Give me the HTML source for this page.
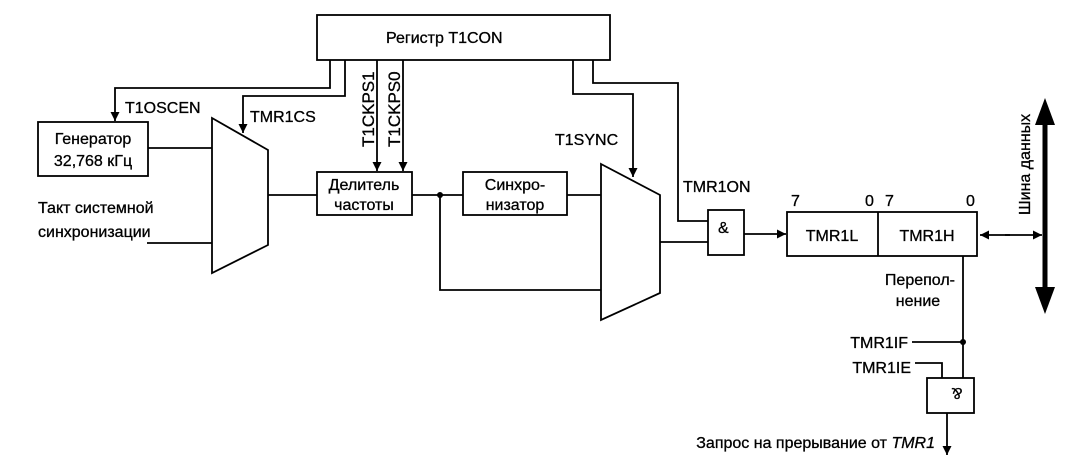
<!DOCTYPE html>
<html><head><meta charset="utf-8"><style>
html,body{margin:0;padding:0;background:#fff;}
svg{display:block;}
text{font-family:"Liberation Sans","DejaVu Sans",sans-serif;fill:#000;}
</style></head><body>
<svg width="1066" height="464" viewBox="0 0 1066 464" xmlns="http://www.w3.org/2000/svg">
<defs>
<marker id="a" viewBox="0 0 10 10" refX="10" refY="5" markerWidth="10" markerHeight="9" orient="auto" markerUnits="userSpaceOnUse"><path d="M0,0 L10,5 L0,10 z" fill="#000"/></marker>
</defs>
<g fill="none" stroke="#000" stroke-width="1.8">
<rect x="317" y="15" width="293" height="45"/>
<polyline points="330,60 330,88 115,88 115,121" marker-end="url(#a)"/>
<polyline points="345,60 345,96 243,96 243,133" marker-end="url(#a)"/>
<line x1="377" y1="60" x2="377" y2="171" marker-end="url(#a)"/>
<line x1="403" y1="60" x2="403" y2="171" marker-end="url(#a)"/>
<rect x="38" y="122" width="110" height="54"/>
<polygon points="212,118 268,150 268,245 212,273"/>
<line x1="148" y1="148" x2="212" y2="148"/>
<line x1="147" y1="243" x2="212" y2="243"/>
<line x1="268" y1="195" x2="317" y2="195"/>
<rect x="317" y="172" width="95" height="43"/>
<line x1="412" y1="195" x2="463" y2="195"/>
<polyline points="440,195 440,290 601,290"/>
<rect x="463" y="172" width="104" height="43"/>
<line x1="567" y1="195" x2="601" y2="195"/>
<polygon points="601,164 660,195 660,293 601,320"/>
<polyline points="573,60 573,94 633,94 633,177" marker-end="url(#a)"/>
<polyline points="593,60 593,83 678,83 678,221 708,221"/>
<line x1="660" y1="242" x2="708" y2="242"/>
<rect x="708" y="210" width="36" height="45"/>
<line x1="744" y1="234" x2="786" y2="234" marker-end="url(#a)"/>
<rect x="787" y="212" width="190" height="44"/>
<line x1="878" y1="212" x2="878" y2="256"/>
<line x1="1005" y1="235" x2="1042" y2="235" marker-end="url(#a)"/>
<line x1="1010" y1="235" x2="980" y2="235" marker-end="url(#a)"/>
<line x1="963" y1="256" x2="963" y2="378"/>
<line x1="912" y1="342" x2="963" y2="342"/>
<polyline points="915,363 942,363 942,378"/>
<rect x="927" y="378" width="47" height="35"/>
<line x1="947" y1="413" x2="947" y2="455" marker-end="url(#a)"/>
</g>
<circle cx="440" cy="195" r="3" fill="#000"/>
<circle cx="963" cy="342" r="3" fill="#000"/>
<line x1="1045" y1="115" x2="1045" y2="298" stroke="#000" stroke-width="5"/>
<polygon points="1045,98 1035,125 1055,125" fill="#000"/>
<polygon points="1045,314 1035,287 1055,287" fill="#000"/>
<g font-size="16" stroke="#000" stroke-width="0.3">
<text x="386" y="43">Регистр T1CON</text>
<text x="125" y="113">T1OSCEN</text>
<text x="250" y="122">TMR1CS</text>
<text transform="translate(374,147) rotate(-90)" font-size="17">T1CKPS1</text>
<text transform="translate(400,147) rotate(-90)" font-size="17">T1CKPS0</text>
<text x="93" y="144" text-anchor="middle">Генератор</text>
<text x="93" y="166" text-anchor="middle">32,768 кГц</text>
<text x="38" y="213">Такт системной</text>
<text x="38" y="237">синхронизации</text>
<text x="364" y="190" text-anchor="middle">Делитель</text>
<text x="364" y="210" text-anchor="middle">частоты</text>
<text x="515" y="190" text-anchor="middle">Синхро-</text>
<text x="515" y="210" text-anchor="middle">низатор</text>
<text x="555" y="145">T1SYNC</text>
<text x="683" y="192">TMR1ON</text>
<text x="718" y="233">&amp;</text>
<text x="832" y="241" text-anchor="middle">TMR1L</text>
<text x="927" y="241" text-anchor="middle">TMR1H</text>
<text x="791" y="206">7</text>
<text x="865" y="206">0</text>
<text x="885" y="206">7</text>
<text x="966" y="206">0</text>
<text transform="translate(1030,215) rotate(-90)">Шина данных</text>
<text x="955" y="285" text-anchor="end">Перепол-</text>
<text x="918" y="306" text-anchor="middle">нение</text>
<text x="908" y="348" text-anchor="end">TMR1IF</text>
<text x="911" y="373" text-anchor="end">TMR1IE</text>
<text transform="translate(957,388) rotate(180)" text-anchor="middle">&amp;</text>
<text x="935" y="448" text-anchor="end">Запрос на прерывание от <tspan font-style="italic">TMR1</tspan></text>
</g>
</svg>
</body></html>
